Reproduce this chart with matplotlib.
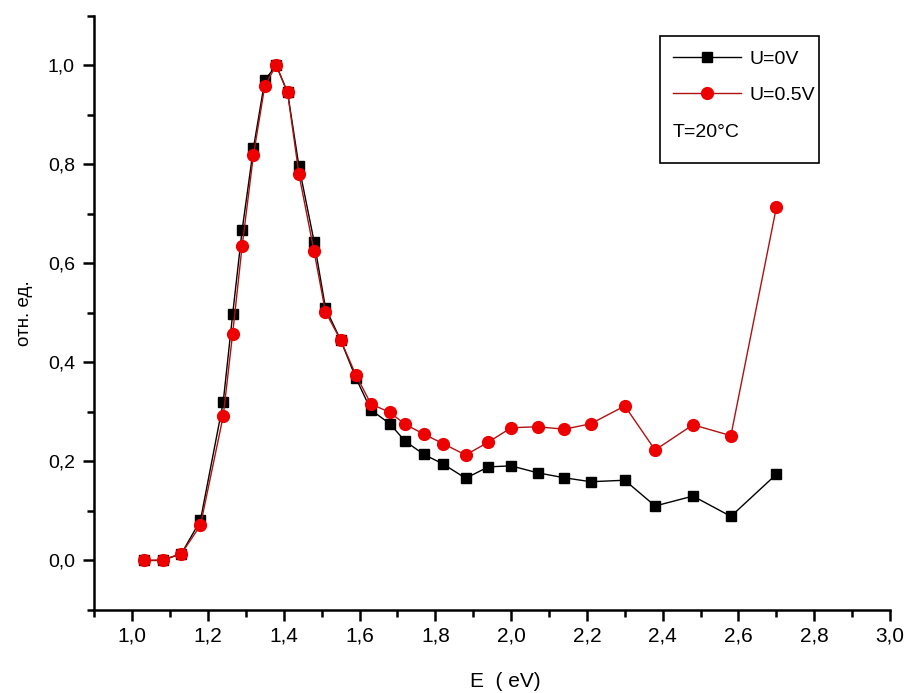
import matplotlib
matplotlib.use("Agg")
import matplotlib.pyplot as plt
from matplotlib.patches import Rectangle
from matplotlib.ticker import MultipleLocator, FuncFormatter

plt.rcParams['font.family'] = ['Liberation Sans', 'DejaVu Sans']

# photon energy, eV
energy = [1.03, 1.08, 1.13, 1.18, 1.24, 1.265, 1.29, 1.32, 1.35, 1.38, 1.41,
          1.44, 1.48, 1.51, 1.55, 1.59, 1.63, 1.68, 1.72, 1.77, 1.82, 1.88,
          1.94, 2.00, 2.07, 2.14, 2.21, 2.30, 2.38, 2.48, 2.58, 2.70]

# normalised response at U=0V
u0 = [0.0, 0.0, 0.014, 0.081, 0.319, 0.497, 0.667, 0.833, 0.970, 1.0, 0.945,
      0.796, 0.644, 0.510, 0.445, 0.369, 0.304, 0.276, 0.241, 0.214, 0.195, 0.166,
      0.189, 0.191, 0.177, 0.167, 0.159, 0.162, 0.110, 0.130, 0.089, 0.174]

# normalised response at U=0.5V
u05 = [0.0, 0.001, 0.014, 0.071, 0.291, 0.458, 0.635, 0.819, 0.959, 1.0, 0.945,
       0.780, 0.624, 0.502, 0.445, 0.375, 0.316, 0.299, 0.275, 0.255, 0.236, 0.213,
       0.239, 0.268, 0.270, 0.265, 0.276, 0.312, 0.223, 0.274, 0.252, 0.713]

fig = plt.figure(figsize=(9.08, 6.93), dpi=100)
ax = fig.add_axes([0.1039, 0.1198, 0.9802 - 0.1039, 0.9773 - 0.1198])

ax.plot(energy, u0, color='black', lw=1, marker='s', ms=7.5,
        mfc='black', mec='black', label='U=0V')
ax.plot(energy, u05, color='#b01010', lw=1, marker='o', ms=8.5,
        mfc='#ee0000', mec='#ee0000', label='U=0.5V')

ax.set_xlim(0.9, 3.0)
ax.set_ylim(-0.1, 1.1)

ax.xaxis.set_major_locator(MultipleLocator(0.2))
ax.xaxis.set_minor_locator(MultipleLocator(0.1))
ax.yaxis.set_major_locator(MultipleLocator(0.2))
ax.yaxis.set_minor_locator(MultipleLocator(0.1))

comma = FuncFormatter(lambda v, p: f"{v:.1f}".replace('.', ','))
ax.xaxis.set_major_formatter(comma)
ax.yaxis.set_major_formatter(comma)

for s in ['top', 'right']:
    ax.spines[s].set_visible(False)
for s in ['left', 'bottom']:
    ax.spines[s].set_linewidth(1.8)

ax.tick_params(which='major', direction='out', length=8, width=1.8)
ax.tick_params(which='minor', direction='out', length=5, width=1.8)
ax.tick_params(axis='x', which='major', labelsize=15, pad=4)
ax.tick_params(axis='y', which='major', labelsize=14, pad=6)

ax.set_xlabel('E  ( eV)', fontsize=15)
ax.xaxis.set_label_coords(0.516, -0.105)
ax.set_ylabel('отн. ед.', fontsize=13.5)
ax.yaxis.set_label_coords(-0.077, 0.5)

# legend box with temperature note
ax.add_patch(Rectangle((0.711, 0.752), 0.2, 0.214, transform=ax.transAxes,
                       fill=False, edgecolor='black', lw=1.2, clip_on=False))
ax.legend(loc='upper left', bbox_to_anchor=(0.7176, 0.955), frameon=False,
          fontsize=14, handlelength=3.5, handletextpad=0.45, labelspacing=0.95,
          borderaxespad=0)
ax.text(0.727, 0.803, 'T=20°C', transform=ax.transAxes, fontsize=14,
        va='center', ha='left')

fig.savefig('out.png', dpi=100)
